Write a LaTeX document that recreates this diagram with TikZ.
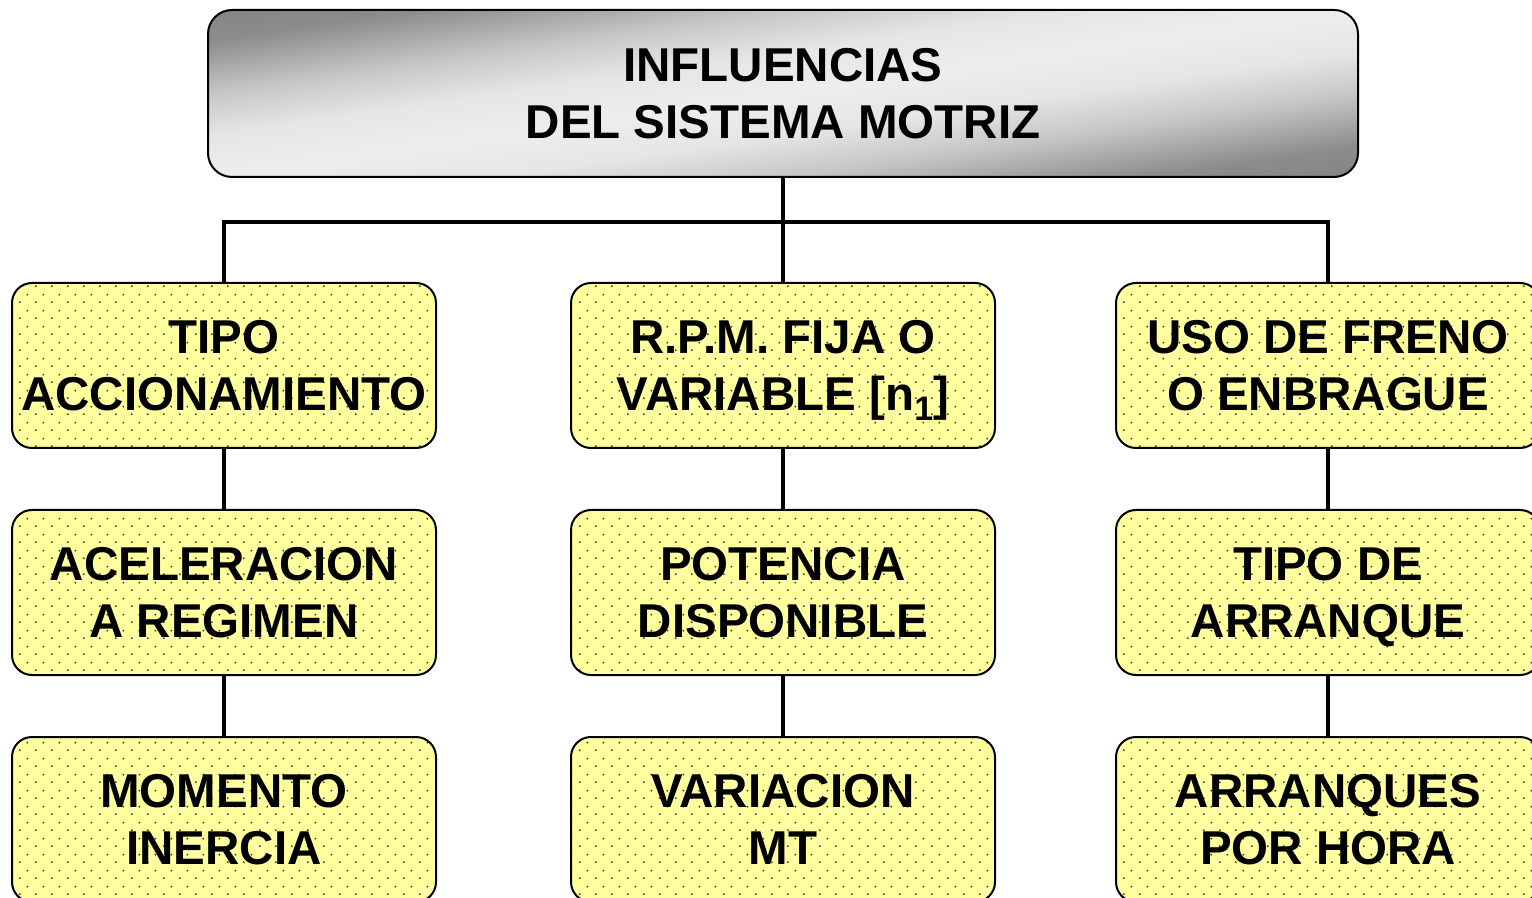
\documentclass[tikz,border=0pt]{standalone}
\usepackage{fontspec}
\setmainfont{Liberation Sans}
\usetikzlibrary{patterns}

\definecolor{boxyellow}{RGB}{255,255,160}
\pgfdeclarepatternformonly{pdots}{\pgfpointorigin}{\pgfqpoint{8pt}{8pt}}{\pgfqpoint{8pt}{8pt}}{%
  \pgfpathcircle{\pgfqpoint{2pt}{2pt}}{0.55pt}%
  \pgfpathcircle{\pgfqpoint{6pt}{6pt}}{0.55pt}%
  \pgfusepath{fill}}
\pgfdeclarehorizontalshading{titleshade}{100bp}{%
  color(0bp)=(black!48); color(22bp)=(black!48); color(27bp)=(black!45);
  color(36bp)=(black!22); color(43bp)=(black!10); color(50bp)=(black!7);
  color(57bp)=(black!10); color(64bp)=(black!22); color(73bp)=(black!45);
  color(78bp)=(black!48); color(100bp)=(black!48)}

\tikzset{
  boxtxt/.style={font=\bfseries\fontsize{23.75}{28.5}\selectfont, align=center, text depth=0pt},
  titlebox/.style={boxtxt, draw, line width=1pt, rounded corners=12pt,
    minimum width=575pt, minimum height=83.5pt,
    shading=titleshade, shading angle=-81.7},
  itembox/.style={boxtxt, draw, line width=1pt, rounded corners=10pt,
    minimum width=212pt, minimum height=82.5pt,
    preaction={fill=boxyellow}, pattern=pdots, pattern color=black!75},
  link/.style={line width=2pt}
}

\begin{document}
\begin{tikzpicture}[x=0.5pt,y=-0.5pt]
  \useasboundingbox (0,0) rectangle (1532,898);
  \clip (0,0) rectangle (1532,898);

  \node[titlebox] (top) at (783,93.5) {INFLUENCIAS\\DEL SISTEMA MOTRIZ};

  % first row
  \node[itembox] (l1) at (224,365.5)  {TIPO\\ACCIONAMIENTO};
  \node[itembox] (m1) at (783,365.5)  {R.P.M. FIJA O\\VARIABLE [n\raisebox{-5pt}{\fontsize{17}{17}\selectfont 1}]};
  \node[itembox] (r1) at (1328,365.5) {USO DE FRENO\\O ENBRAGUE};
  % second row
  \node[itembox] (l2) at (224,592.5)  {ACELERACION\\A REGIMEN};
  \node[itembox] (m2) at (783,592.5)  {POTENCIA\\DISPONIBLE};
  \node[itembox] (r2) at (1328,592.5) {TIPO DE\\ARRANQUE};
  % third row
  \node[itembox] (l3) at (224,819.5)  {MOMENTO\\INERCIA};
  \node[itembox] (m3) at (783,819.5)  {VARIACION\\MT};
  \node[itembox] (r3) at (1328,819.5) {ARRANQUES\\POR HORA};

  \coordinate (bus) at (783,222);
  \draw[link] (top.south) -- (m1.north);
  \draw[link] (l1.north) -- (l1.north |- bus) -- (r1.north |- bus) -- (r1.north);

  \foreach \from/\to in {l1/l2,l2/l3,m1/m2,m2/m3,r1/r2,r2/r3}
    \draw[link] (\from) -- (\to);

\end{tikzpicture}
\end{document}
